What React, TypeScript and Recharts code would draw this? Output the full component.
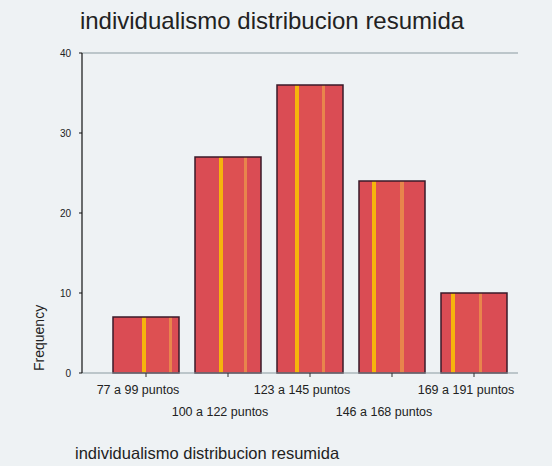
import { BarChart, Bar, XAxis, YAxis, ReferenceLine, Cell } from 'recharts';

const categories = ['77 a 99 puntos', '100 a 122 puntos', '123 a 145 puntos', '146 a 168 puntos', '169 a 191 puntos'];
const frequencies = [7, 27, 36, 24, 10];
const yTicks = [0, 10, 20, 30, 40];

const data = categories.map((name, i) => ({ name, value: frequencies[i] }));

// where the yellow / orange stripes sit inside each bar (fraction of bar width)
const STRIPES = [
  [0.47, 0.87],
  [0.4, 0.77],
  [0.31, 0.7],
  [0.23, 0.65],
  [0.18, 0.6],
];

const FONT = '"Liberation Sans", Arial, sans-serif';
const BASE = '#da4c54';
const YELLOW = '#f6b40c';
const ORANGE = '#e8854c';

function StaggeredTick(props: any) {
  const { x, y, payload, index } = props;
  const dy = index % 2 === 0 ? 13 : 35;
  return (
    <g>
      <line x1={x} x2={x} y1={y - 8} y2={y - 4} stroke="#333" strokeWidth={1} />
      <text x={x - 8} y={y + dy} textAnchor="middle" fontSize={12.5} fill="#222" fontFamily={FONT}>
        {payload.value}
      </text>
    </g>
  );
}

export default function App() {
  return (
    <div style={{ position: 'absolute', left: 0, top: 0, width: 552, height: 466, background: '#eef2f4', fontFamily: FONT }}>
      <div style={{ position: 'absolute', left: 2, top: 7, width: 540, textAlign: 'center', fontSize: 24, color: '#222' }}>
        individualismo distribucion resumida
      </div>
      <div style={{ position: 'absolute', left: 75, top: 444, fontSize: 16.5, color: '#222' }}>
        individualismo distribucion resumida
      </div>
      <BarChart width={552} height={466} data={data} margin={{ top: 53, right: 34, bottom: 0, left: 0 }}>
        <defs>
          {STRIPES.map(([ys, os], i) => (
            <linearGradient key={i} id={`stripe${i}`} x1="0" y1="0" x2="1" y2="0">
              <stop offset={0} stopColor={BASE} />
              <stop offset={ys - 0.03} stopColor={BASE} />
              <stop offset={ys - 0.03} stopColor={YELLOW} />
              <stop offset={ys + 0.03} stopColor={YELLOW} />
              <stop offset={ys + 0.03} stopColor="#dd5052" />
              <stop offset={os - 0.025} stopColor="#dd5052" />
              <stop offset={os - 0.025} stopColor={ORANGE} />
              <stop offset={os + 0.025} stopColor={ORANGE} />
              <stop offset={os + 0.025} stopColor={BASE} />
              <stop offset={1} stopColor={BASE} />
            </linearGradient>
          ))}
        </defs>
        <XAxis
          dataKey="name"
          interval={0}
          padding={{ left: 23, right: 3 }}
          axisLine={{ stroke: '#8a9aa0' }}
          tickLine={false}
          tick={<StaggeredTick />}
          height={93}
        />
        <YAxis
          yAxisId="left"
          domain={[0, 40]}
          ticks={yTicks}
          width={82}
          axisLine={{ stroke: '#111', strokeWidth: 1.2 }}
          tickLine={{ stroke: '#111' }}
          tickSize={3}
          tickMargin={8}
          tick={{ fontSize: 10, fill: '#222', fontFamily: FONT }}
          label={{ value: 'Frequency', angle: -90, position: 'insideBottomLeft', offset: 0, dx: 44, dy: -2, fontSize: 14, fill: '#222', fontFamily: FONT }}
        />
        <YAxis
          yAxisId="right"
          orientation="right"
          domain={[0, 40]}
          width={0}
          tick={false}
          tickLine={false}
          axisLine={{ stroke: '#111', strokeWidth: 1.2 }}
        />
        <ReferenceLine yAxisId="left" y={40} stroke="#8a9aa0" strokeWidth={1.2} />
        <Bar
          yAxisId="left"
          dataKey="value"
          barSize={66}
          stroke="#3a1a28"
          strokeWidth={1.5}
          isAnimationActive={false}
        >
          {data.map((_, i) => (
            <Cell key={i} fill={`url(#stripe${i})`} />
          ))}
        </Bar>
      </BarChart>
    </div>
  );
}
